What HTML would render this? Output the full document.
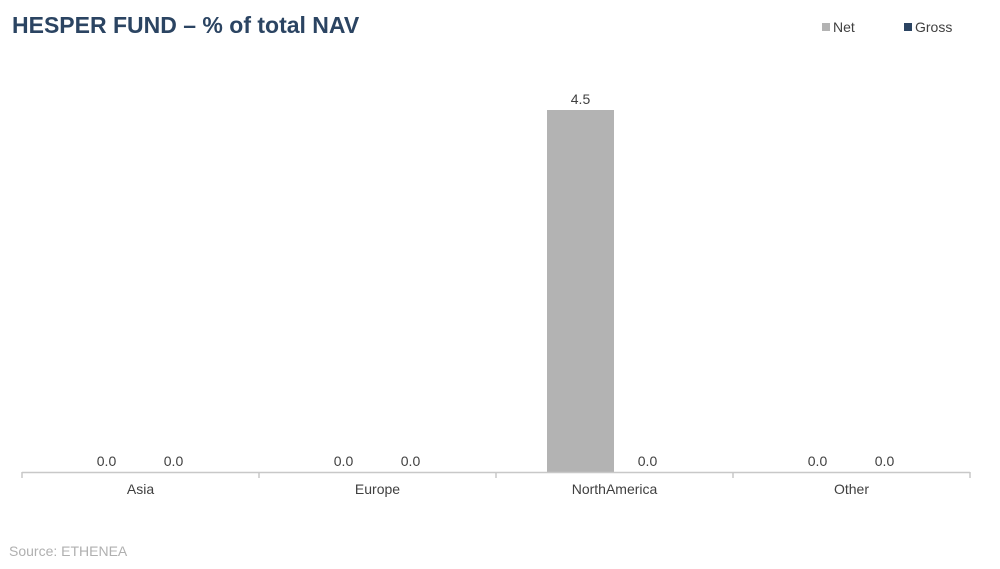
<!DOCTYPE html>
<html><head><meta charset="utf-8"><style>
body{margin:0;background:#fff;font-family:"Liberation Sans",sans-serif;}
svg{display:block}
</style></head><body>
<svg width="1000" height="569" viewBox="0 0 1000 569">
<text x="12" y="33" font-size="23" font-weight="bold" fill="#2b4462">HESPER FUND – % of total NAV</text>
<g>
<rect x="822" y="23" width="8" height="8" fill="#b3b3b3"/>
<text x="833" y="32" font-size="14" fill="#404040">Net</text>
<rect x="904" y="23" width="8" height="8" fill="#2b4462"/>
<text x="915" y="32" font-size="14" fill="#404040">Gross</text>
</g>
<g id="plot"></g>
<text x="9" y="556" font-size="14" fill="#b0b0b0">Source: ETHENEA</text>
</svg>
<script>
const categories=["Asia","Europe","NorthAmerica","Other"];
const netValues=[0.0,0.0,4.5,0.0];
const grossValues=[0.0,0.0,0.0,0.0];
const ns="http://www.w3.org/2000/svg";
const g=document.getElementById('plot');
const x0=22,x1=970,y0=472,yTop=110,maxV=4.5;
const bw=(x1-x0)/categories.length;
const y=v=>y0-(v/maxV)*(y0-yTop);
function mk(t,a){const e=document.createElementNS(ns,t);for(const k in a)e.setAttribute(k,a[k]);g.appendChild(e);return e;}
categories.forEach((c,i)=>{
  const cx=x0+bw*(i+0.5);
  [[netValues[i],-34,'#b3b3b3','net'],[grossValues[i],33,'#2b4462','gross']].forEach(([v,off,col,s])=>{
    const bx=cx+off;
    const r=mk('rect',{x:bx-33.5,y:Math.min(y(v),y0),width:67,height:Math.abs(y0-y(v)),fill:col});
    
    
    const t=mk('text',{x:bx,y:y(v)-6,'font-size':14,fill:'#404040','text-anchor':'middle'});
    t.textContent=v.toFixed(1);
    
    
  });
  const l=mk('text',{x:cx,y:494,'font-size':14,fill:'#404040','text-anchor':'middle'});
  l.textContent=c;
  
  
});
const ax=mk('line',{x1:x0,x2:x1,y1:y0+0.5,y2:y0+0.5,stroke:'#c8c8c8','stroke-width':1.5});


for(let i=0;i<=categories.length;i++){
  const tk=mk('line',{x1:x0+bw*i,x2:x0+bw*i,y1:y0,y2:y0+6,stroke:'#c8c8c8','stroke-width':1.5});
  
  
}
</script>
</body></html>
